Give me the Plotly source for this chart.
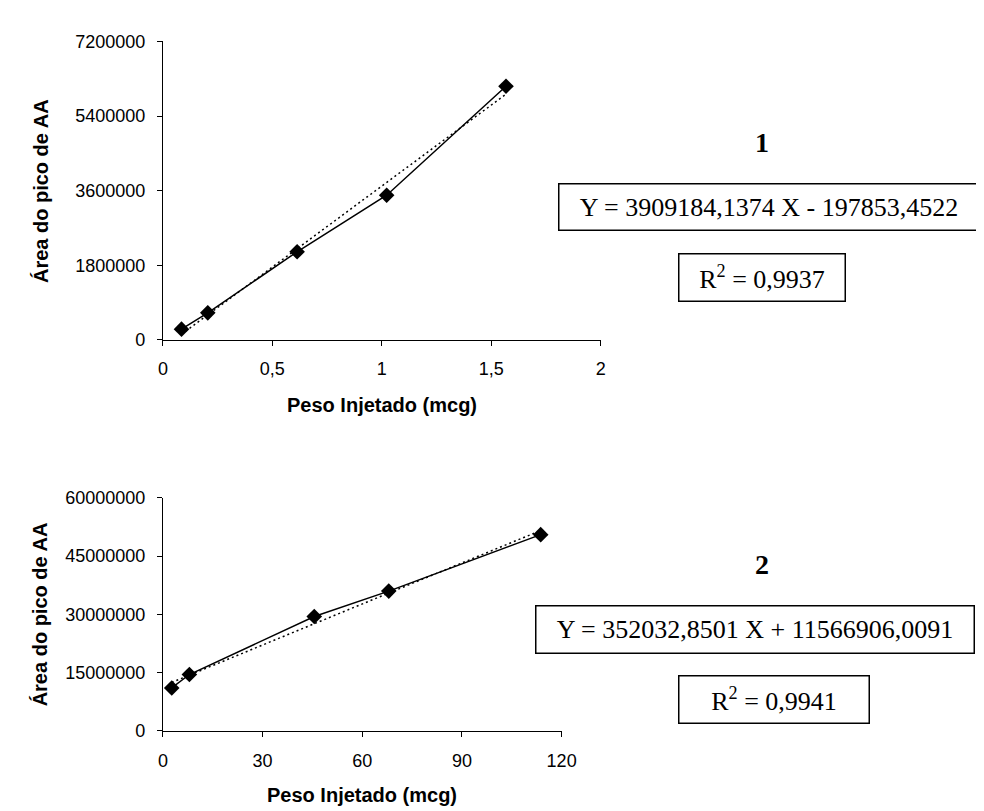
import plotly.graph_objects as go

W, H = 984, 811

# ---- data: chart 1 ----
x1 = [0.085, 0.205, 0.613, 1.022, 1.567]
y1 = [259000, 652000, 2125000, 3490000, 6118000]
slope1, icpt1 = 3909184.1374, -197853.4522
eq1 = "Y = 3909184,1374 X - 197853,4522"
r2_1 = "R<sup>2</sup> = 0,9937"
lab1 = "1"
xt1_vals = [0, 0.5, 1, 1.5, 2]
xt1_text = ["0", "0,5", "1", "1,5", "2"]
yt1_vals = [0, 1800000, 3600000, 5400000, 7200000]
yt1_text = ["0", "1800000", "3600000", "5400000", "7200000"]

# ---- data: chart 2 ----
x2 = [2.66, 7.97, 45.55, 67.98, 113.7]
y2 = [11080000, 14530000, 29460000, 36000000, 50530000]
slope2, icpt2 = 352032.8501, 11566906.0091
eq2 = "Y = 352032,8501 X + 11566906,0091"
r2_2 = "R<sup>2</sup> = 0,9941"
lab2 = "2"
xt2_vals = [0, 30, 60, 90, 120]
xt2_text = ["0", "30", "60", "90", "120"]
yt2_vals = [0, 15000000, 30000000, 45000000, 60000000]
yt2_text = ["0", "15000000", "30000000", "45000000", "60000000"]

xtitle = "Peso Injetado (mcg)"
ytitle = "Área do pico de AA"

def px(x): return x / W
def py(y): return 1 - y / H

fig = go.Figure()

def add_chart(xs, ys, slope, icpt, xa, ya):
    tx = [min(xs), max(xs)]
    ty = [slope * v + icpt for v in tx]
    fig.add_trace(go.Scatter(x=tx, y=ty, mode="lines", xaxis=xa, yaxis=ya,
                             line=dict(color="black", width=1.5, dash="2px,3px"),
                             showlegend=False, hoverinfo="skip"))
    fig.add_trace(go.Scatter(x=xs, y=ys, mode="lines+markers", xaxis=xa, yaxis=ya,
                             line=dict(color="black", width=1.5),
                             marker=dict(symbol="diamond", size=12, color="black"),
                             showlegend=False))

add_chart(x1, y1, slope1, icpt1, "x", "y")
add_chart(x2, y2, slope2, icpt2, "x2", "y2")

tickfont = dict(family="Liberation Sans, Arial", size=18, color="black")
axcommon = dict(showline=True, linecolor="black", linewidth=1, showgrid=False,
                zeroline=False, ticks="outside", ticklen=5, tickcolor="black",
                tickwidth=1, tickfont=tickfont, tickmode="array")

fig.update_layout(
    width=W, height=H, paper_bgcolor="white", plot_bgcolor="white",
    margin=dict(l=0, r=0, t=0, b=0),
    xaxis=dict(domain=[px(153), px(600)], range=[0, 2], anchor="y",
               tickvals=xt1_vals, ticktext=xt1_text, ticklabelstandoff=8, **axcommon),
    yaxis=dict(domain=[py(330), py(24)], range=[0, 7200000], anchor="x",
               tickvals=yt1_vals, ticktext=yt1_text, ticklabelstandoff=8, **axcommon),
    xaxis2=dict(domain=[px(153), px(560)], range=[0, 120], anchor="y2",
                tickvals=xt2_vals, ticktext=xt2_text, ticklabelstandoff=8, **axcommon),
    yaxis2=dict(domain=[py(731), py(492)], range=[0, 60000000], anchor="x2",
                tickvals=yt2_vals, ticktext=yt2_text, ticklabelstandoff=8, **axcommon),
)

titlefont = dict(family="Liberation Sans, Arial", size=20, color="black")
serif = dict(family="Liberation Serif, Times New Roman", size=26, color="black")
anns = []
anns.append(dict(text="<b>" + xtitle + "</b>", x=px(376.5), y=py(397), font=titlefont))
anns.append(dict(text="<b>" + xtitle + "</b>", x=px(356.5), y=py(797), font=titlefont))
anns.append(dict(text="<b>" + ytitle + "</b>", x=px(28), y=py(177), font=titlefont, textangle=-90))
anns.append(dict(text="<b>" + ytitle + "</b>", x=px(28), y=py(611), font=titlefont, textangle=-90))
anns.append(dict(text="<b>" + lab1 + "</b>", x=px(765), y=py(128), font=dict(serif, size=28)))
anns.append(dict(text="<b>" + lab2 + "</b>", x=px(765), y=py(560), font=dict(serif, size=28)))

def box(text, cx, cy, w, h):
    return dict(text=text, x=px(cx), y=py(cy), font=serif, width=w - 3, height=h - 3,
                bordercolor="black", borderwidth=1.5, borderpad=0, bgcolor="white",
                align="center", valign="middle")

anns.append(box(eq1, 772, 194, 422, 48))
anns.append(box(r2_1, 765, 266.5, 168, 49))
anns.append(box(eq2, 757, 626.5, 440, 49))
anns.append(box(r2_2, 777, 698.5, 192, 49))

for a in anns:
    a.setdefault("xref", "paper")
    a.setdefault("yref", "paper")
    a.setdefault("xanchor", "center")
    a.setdefault("yanchor", "middle")
    a.setdefault("showarrow", False)
fig.update_layout(annotations=anns)

fig.write_html("out.html")
